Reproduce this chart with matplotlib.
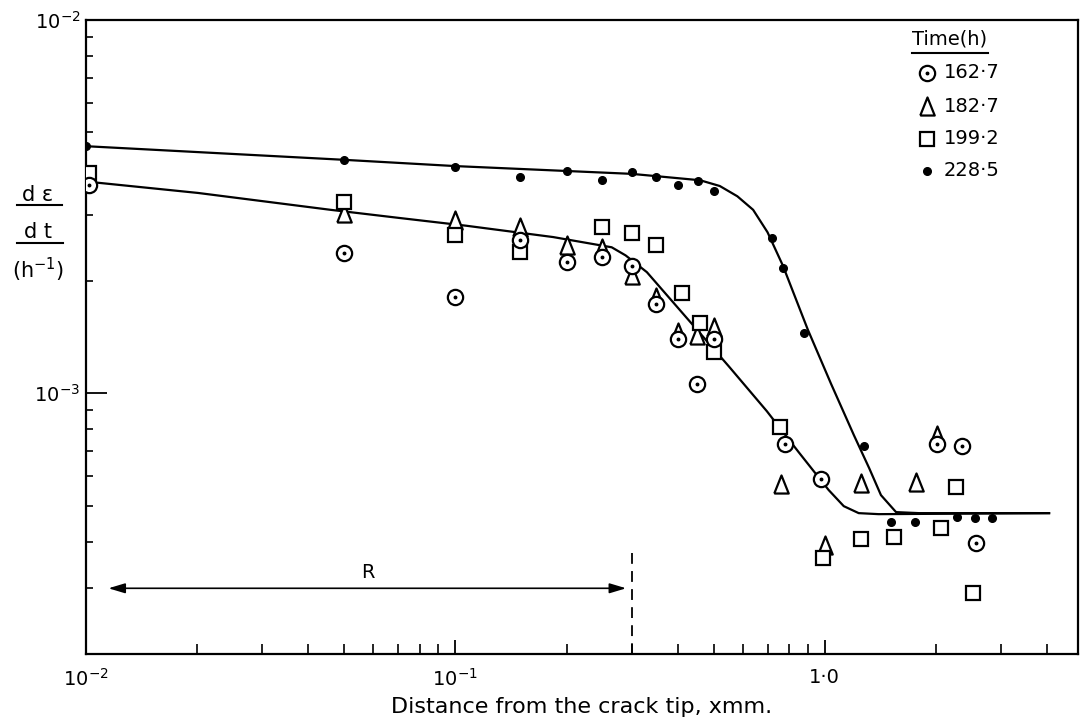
import numpy as np
import matplotlib
matplotlib.use('Agg')
import matplotlib.pyplot as plt
from matplotlib.ticker import FixedLocator, LogLocator, NullFormatter

# dε/dt against distance from the crack tip
x_1627 = [0.0102, 0.05, 0.1, 0.15, 0.2, 0.25, 0.3, 0.35, 0.4, 0.45, 0.5, 0.78, 0.98, 2.02, 2.35, 2.57]
y_1627 = [3.61e-3, 2.37e-3, 1.81e-3, 2.57e-3, 2.24e-3, 2.32e-3, 2.19e-3, 1.73e-3, 1.40e-3, 1.06e-3,
          1.40e-3, 7.3e-4, 5.9e-4, 7.3e-4, 7.2e-4, 3.96e-4]

x_1827 = [0.05, 0.1, 0.15, 0.2, 0.25, 0.3, 0.35, 0.4, 0.45, 0.5, 0.76, 1.0, 1.25, 1.77, 2.02]
y_1827 = [3.04e-3, 2.91e-3, 2.79e-3, 2.49e-3, 2.45e-3, 2.07e-3, 1.81e-3, 1.46e-3, 1.43e-3, 1.50e-3,
          5.70e-4, 3.91e-4, 5.74e-4, 5.77e-4, 7.71e-4]

x_1992 = [0.0102, 0.05, 0.1, 0.15, 0.25, 0.3, 0.35, 0.41, 0.46, 0.5, 0.755, 0.99, 1.25, 1.54, 2.07, 2.26, 2.52]
y_1992 = [3.89e-3, 3.25e-3, 2.66e-3, 2.39e-3, 2.79e-3, 2.69e-3, 2.50e-3, 1.85e-3, 1.54e-3, 1.29e-3,
          8.1e-4, 3.61e-4, 4.06e-4, 4.11e-4, 4.35e-4, 5.6e-4, 2.91e-4]

x_2285 = [0.01, 0.05, 0.1, 0.15, 0.2, 0.25, 0.3, 0.35, 0.4, 0.455, 0.5, 0.72, 0.77, 0.88,
          1.28, 1.51, 1.76, 2.28, 2.55, 2.84]
y_2285 = [4.59e-3, 4.22e-3, 4.04e-3, 3.79e-3, 3.94e-3, 3.72e-3, 3.91e-3, 3.79e-3, 3.61e-3, 3.70e-3,
          3.49e-3, 2.61e-3, 2.16e-3, 1.45e-3, 7.2e-4, 4.51e-4, 4.51e-4, 4.65e-4, 4.63e-4, 4.63e-4]

# hand drawn curves
curve_a_x = [0.01, 0.05, 0.1, 0.30, 0.46, 0.52, 0.58, 0.64, 0.70, 0.77, 0.90, 1.04, 1.20, 1.32,
             1.42, 1.56, 1.80, 4.05]
curve_a_y = [4.59e-3, 4.22e-3, 4.06e-3, 3.87e-3, 3.72e-3, 3.59e-3, 3.37e-3, 3.10e-3, 2.70e-3, 2.20e-3,
             1.48e-3, 1.06e-3, 7.71e-4, 6.29e-4, 5.33e-4, 4.80e-4, 4.77e-4, 4.77e-4]

curve_b_x = [0.0103, 0.0201, 0.0459, 0.0701, 0.107, 0.184, 0.265, 0.289, 0.330, 0.428, 0.550, 0.697,
             0.850, 1.025, 1.126, 1.236, 1.40, 4.05]
curve_b_y = [3.68e-3, 3.44e-3, 3.10e-3, 2.95e-3, 2.81e-3, 2.62e-3, 2.46e-3, 2.34e-3, 2.11e-3, 1.57e-3,
             1.18e-3, 8.95e-4, 6.95e-4, 5.50e-4, 4.98e-4, 4.77e-4, 4.74e-4, 4.77e-4]

legend_labels = ['162·7', '182·7', '199·2', '228·5']

R_left, R_right, R_level = 0.0115, 0.29, 3.0e-4
R_line_x = 0.3

W, H = 1081, 718
fig = plt.figure(figsize=(W / 100, H / 100), dpi=100)
ax = fig.add_axes([86 / W, 1 - 654 / H, (1078 - 86) / W, (654 - 20) / H])
ax.set_xscale('log')
ax.set_yscale('log')
ax.set_xlim(0.01, 4.85)
ax.set_ylim(2.0e-4, 1.0e-2)

lw = 1.6
ax.plot(curve_a_x, curve_a_y, color='k', lw=lw, zorder=2)
ax.plot(curve_b_x, curve_b_y, color='k', lw=lw, zorder=2)

tri = [(-0.8, -1.0), (0.8, -1.0), (0.0, 1.0), (-0.8, -1.0)]
mk = dict(linestyle='none', mfc='white', mec='k', mew=1.6, zorder=3)
ax.plot(x_1827, y_1827, marker=tri, ms=13, **mk)
ax.plot(x_1992, y_1992, marker='s', ms=10.5, **mk)
ax.plot(x_1627, y_1627, marker='o', ms=11, **mk)
ax.plot(x_1627, y_1627, linestyle='none', marker='o', ms=1.8, color='k', zorder=4)
ax.plot(x_2285, y_2285, linestyle='none', marker='o', ms=5.5, color='k', zorder=4)

# R marker
ax.annotate('', xy=(R_left, R_level), xytext=(R_right, R_level),
            arrowprops=dict(arrowstyle='<|-|>,head_length=1.0,head_width=0.3', color='k', lw=1.2,
                            shrinkA=0, shrinkB=0))
ax.text(0.058, 3.3e-4, 'R', fontsize=14, ha='center', va='center')
ax.plot([R_line_x, R_line_x], [3.72e-4, 2.0e-4], color='k', lw=1.3, linestyle=(0, (6, 4)))

# axes decoration
for s in ax.spines.values():
    s.set_linewidth(1.6)
ax.xaxis.set_major_locator(FixedLocator([0.01, 0.1, 1.0]))
ax.xaxis.set_minor_locator(LogLocator(base=10, subs=np.arange(2, 10)))
ax.xaxis.set_minor_formatter(NullFormatter())
ax.set_xticklabels([r'$10^{-2}$', r'$10^{-1}$', '1·0'])
ax.yaxis.set_major_locator(FixedLocator([1e-3, 1e-2]))
ax.yaxis.set_minor_locator(LogLocator(base=10, subs=np.arange(2, 10)))
ax.yaxis.set_minor_formatter(NullFormatter())
ax.set_yticklabels([r'$10^{-3}$', r'$10^{-2}$'])
ax.tick_params(axis='x', which='major', direction='in', length=10, width=1.3, labelsize=14, pad=10)
ax.tick_params(axis='x', which='minor', direction='in', length=7, width=1.2)
ax.tick_params(axis='y', which='major', direction='in', length=15, width=1.3, labelsize=14, pad=4)
ax.tick_params(axis='y', which='minor', direction='in', length=5, width=1.2)

ax.set_xlabel('Distance from the crack tip, xmm.', fontsize=16, labelpad=5)

# y label drawn as a fraction
fig.text(38 / W, 1 - 195 / H, 'd ε', fontsize=15, ha='center', va='center')
fig.add_artist(plt.Line2D([17 / W, 62 / W], [1 - 205 / H, 1 - 205 / H], color='k', lw=1.5))
fig.text(38 / W, 1 - 232 / H, 'd t', fontsize=15, ha='center', va='center')
fig.add_artist(plt.Line2D([17 / W, 63 / W], [1 - 243 / H, 1 - 243 / H], color='k', lw=1.5))
fig.text(38 / W, 1 - 270 / H, r'(h$^{-1}$)', fontsize=15, ha='center', va='center')

# legend
fig.text(950 / W, 1 - 39 / H, 'Time(h)', fontsize=14, ha='center', va='center')
fig.add_artist(plt.Line2D([912 / W, 988 / W], [1 - 53 / H, 1 - 53 / H], color='k', lw=1.5))
leg_y = [73, 106, 139, 171]
leg_mk = [dict(marker='o', ms=11), dict(marker=tri, ms=13), dict(marker='s', ms=10.5), None]
for yy, lab, m in zip(leg_y, legend_labels, leg_mk):
    fy = 1 - yy / H
    if m is None:
        fig.add_artist(plt.Line2D([927 / W], [fy], marker='o', ms=5.5, color='k', linestyle='none'))
    else:
        fig.add_artist(plt.Line2D([927 / W], [fy], linestyle='none', mfc='white', mec='k', mew=1.6, **m))
        if m['marker'] == 'o':
            fig.add_artist(plt.Line2D([927 / W], [fy], marker='o', ms=1.8, color='k', linestyle='none'))
    fig.text(944 / W, fy, lab, fontsize=14, ha='left', va='center')

fig.savefig('out.png', dpi=100)
